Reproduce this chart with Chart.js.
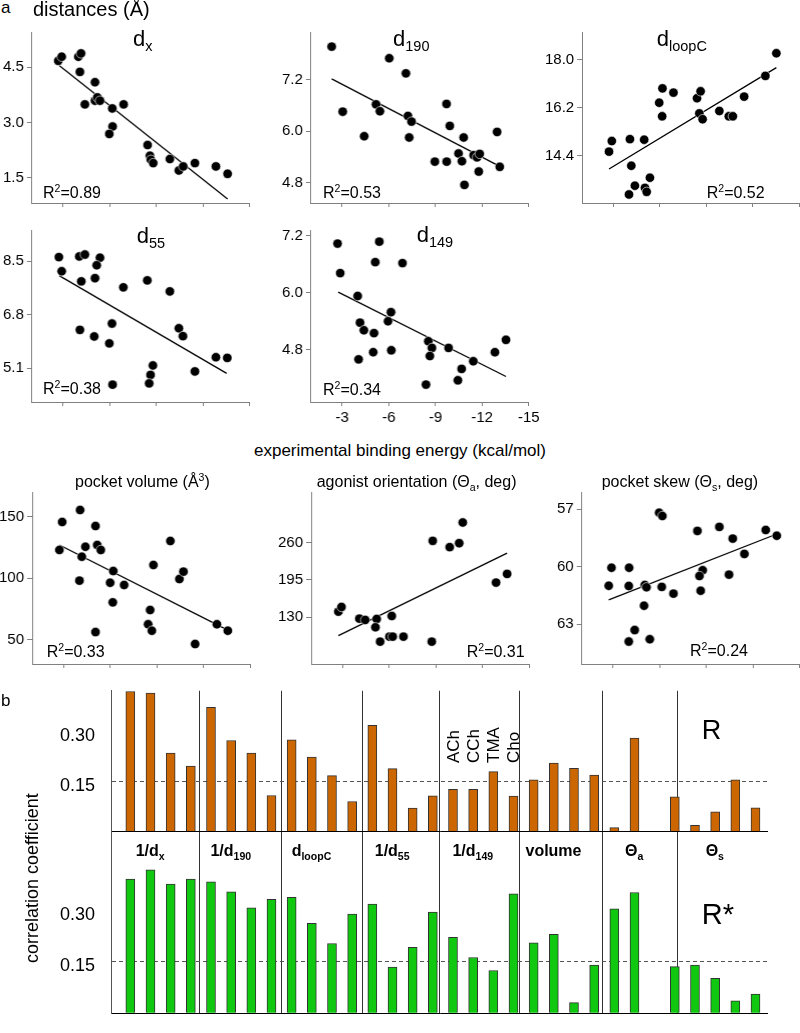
<!DOCTYPE html>
<html>
<head>
<meta charset="utf-8">
<script src="https://cdn.jsdelivr.net/npm/chart.js@4.4.1/dist/chart.umd.min.js"></script>
<style>
  body { margin: 0; width: 800px; height: 1033px; overflow: hidden; position: relative; background: #fff;
         font-family: "Liberation Sans", Arial, sans-serif; color: #000; }
  .t { position: absolute; white-space: nowrap; line-height: 1; }
  .box { position: absolute; }
  sub, sup { font-size: 66%; line-height: 0; }
</style>
</head>
<body>
<script>
// x axis of every scatter: experimental binding energy (kcal/mol)
const energyTicks = [-3, -6, -9, -12, -15];

// d_x
const dxE = [-2.69, -2.91, -3.98, -4.15, -4.08, -5.05, -4.40, -5.05, -5.20, -5.37, -6.16, -6.89, -6.18, -5.97, -8.43, -8.58, -8.64, -8.79, -9.86, -10.44, -10.72, -11.47, -12.82, -13.57];
const dxV = [4.67, 4.78, 4.78, 4.87, 4.37, 4.09, 3.49, 3.59, 3.68, 3.59, 3.38, 3.49, 2.89, 2.69, 2.39, 2.10, 1.99, 1.90, 2.01, 1.70, 1.81, 1.90, 1.81, 1.61];
const dxFit = [[-2.75, 4.54], [-13.57, 0.93]];
const dxTicks = [1.5, 3.0, 4.5];

// d_190
const d190E = [-2.33, -3.04, -4.42, -5.18, -5.43, -6.03, -7.10, -7.23, -7.46, -7.31, -9.71, -9.92, -8.96, -9.72, -10.48, -10.70, -10.81, -11.45, -11.67, -11.84, -11.78, -10.86, -12.96, -13.13];
const d190V = [7.96, 6.45, 5.88, 6.62, 6.46, 7.69, 7.34, 6.35, 6.22, 5.85, 6.63, 6.12, 5.29, 5.29, 5.48, 5.30, 5.85, 5.44, 5.39, 5.47, 5.06, 4.75, 5.98, 5.17];
const d190Fit = [[-2.33, 7.21], [-13.13, 5.18]];
const d190Ticks = [4.8, 6.0, 7.2];

// d_loopC
const loopE = [-2.73, -2.91, -4.08, -5.00, -4.17, -4.40, -4.02, -5.05, -5.16, -5.37, -5.97, -6.16, -6.18, -6.89, -8.41, -8.64, -8.56, -8.77, -9.85, -10.46, -10.72, -11.45, -12.82, -13.53];
const loopV = [14.55, 14.95, 15.02, 15.00, 14.02, 13.27, 12.94, 13.19, 13.04, 13.57, 16.39, 15.88, 16.93, 16.77, 16.56, 16.82, 15.99, 15.77, 16.08, 15.88, 15.88, 16.62, 17.40, 18.25];
const loopFit = [[-2.73, 13.90], [-13.53, 17.71]];
const loopTicks = [14.4, 16.2, 18.0];

// d_55
const d55E = [-2.73, -2.91, -4.04, -4.40, -4.17, -5.37, -5.16, -5.05, -6.87, -8.41, -9.86, -4.08, -5.00, -6.14, -5.97, -10.44, -10.70, -8.77, -8.62, -8.53, -11.47, -12.82, -13.55, -6.18];
const d55V = [8.63, 8.18, 8.65, 8.71, 7.86, 8.61, 8.37, 7.96, 7.67, 7.89, 7.54, 6.32, 6.11, 6.52, 5.89, 6.37, 6.12, 5.19, 4.89, 4.62, 5.00, 5.45, 5.43, 4.58];
const d55Fit = [[-2.75, 8.04], [-13.51, 4.94]];
const d55Ticks = [5.1, 6.8, 8.5];

// d_149
const d149E = [-2.71, -2.88, -5.39, -5.13, -6.88, -4.00, -6.14, -5.95, -4.15, -4.40, -5.05, -5.00, -6.16, -4.06, -8.54, -8.77, -8.64, -9.84, -8.39, -10.68, -10.44, -11.43, -12.82, -13.53];
const d149V = [7.03, 6.41, 7.07, 6.64, 6.62, 5.93, 5.59, 5.40, 5.37, 5.21, 5.15, 4.75, 4.79, 4.60, 4.98, 4.84, 4.67, 4.84, 4.07, 4.40, 4.16, 4.56, 4.75, 5.01];
const d149Fit = [[-2.75, 6.01], [-13.53, 4.24]];
const d149Ticks = [4.8, 6.0, 7.2];

// pocket volume
const volE = [-2.75, -2.93, -4.08, -4.19, -4.04, -4.42, -5.07, -5.18, -5.41, -5.07, -6.21, -6.01, -6.91, -6.18, -8.79, -8.58, -8.45, -8.69, -9.88, -10.46, -10.72, -11.47, -12.87, -13.57];
const volV = [123.0, 145.7, 155.4, 117.5, 98.1, 125.6, 142.4, 127.0, 123.0, 56.4, 105.9, 96.4, 94.6, 80.5, 110.8, 74.3, 62.7, 57.5, 130.3, 99.4, 105.4, 46.7, 62.7, 57.5];
const volFit = [[-2.75, 127.0], [-13.57, 58.0]];
const volTicks = [50, 100, 150];

// agonist orientation
const oriE = [-2.75, -2.95, -4.10, -4.47, -5.21, -5.13, -6.18, -6.03, -6.24, -6.93, -5.43, -8.75, -8.81, -9.90, -10.51, -10.74, -12.88, -13.59];
const oriV = [139.7, 147.9, 127.5, 125.3, 127.0, 112.5, 132.2, 96.2, 96.2, 96.2, 87.5, 87.5, 263.0, 252.0, 258.9, 294.9, 190.3, 205.4];
const oriFit = [[-2.75, 97.9], [-13.59, 241.5]];
const oriTicks = [130, 195, 260];

// pocket skew
const skewE = [-2.73, -2.91, -4.04, -4.02, -5.05, -5.16, -5.00, -4.40, -5.37, -5.97, -6.18, -6.14, -6.89, -8.43, -8.77, -8.56, -8.64, -9.84, -10.46, -10.70, -11.45, -12.82, -13.53, -4.02];
const skewV = [60.99, 60.05, 60.05, 61.00, 60.95, 61.07, 62.03, 63.30, 63.78, 57.18, 57.35, 61.05, 61.40, 58.13, 60.18, 60.48, 61.25, 57.92, 60.41, 58.53, 59.33, 58.08, 58.38, 63.90];
const skewFit = [[-2.73, 61.73], [-13.53, 58.29]];
const skewTicks = [57, 60, 63];

// panel b
const groups = ['1/d<sub>x</sub>', '1/d<sub>190</sub>', 'd<sub>loopC</sub>', '1/d<sub>55</sub>', '1/d<sub>149</sub>', 'volume', 'Θ<sub>a</sub>', 'Θ<sub>s</sub>'];
const ligands = ['ACh', 'CCh', 'TMA', 'Cho'];
const R = [0.423, 0.418, 0.237, 0.198,
           0.375, 0.275, 0.237, 0.109,
           0.277, 0.225, 0.169, 0.091,
           0.321, 0.190, 0.071, 0.108,
           0.128, 0.128, 0.181, 0.107,
           0.156, 0.207, 0.191, 0.171,
           0.012, 0.282, null, 0.105,
           0.019, 0.060, 0.156, 0.072];
const Rstar = [0.392, 0.419, 0.378, 0.392,
               0.384, 0.355, 0.308, 0.333,
               0.339, 0.263, 0.204, 0.290,
               0.319, 0.135, 0.193, 0.296,
               0.222, 0.163, 0.125, 0.349,
               0.206, 0.231, 0.031, 0.141,
               0.305, 0.353, null, 0.136,
               0.141, 0.102, 0.036, 0.056];
const threshold = 0.15;
const barTicks = [0, 0.15, 0.30];
const groupEdges = [3.44, 7.52, 11.49, 15.33, 19.3, 23.39, 27.13];

Chart.defaults.font.family = '"Liberation Sans", Arial, sans-serif';
Chart.defaults.color = '#000';

// build a chart, then move/resize its box so the plot area lands on rect
function place(rect, config) {
  const box = document.createElement('div');
  box.className = 'box';
  box.style.left = rect.x + 'px';
  box.style.top = rect.y + 'px';
  box.style.width = (rect.w + 60) + 'px';
  box.style.height = (rect.h + 40) + 'px';
  const canvas = document.createElement('canvas');
  box.appendChild(canvas);
  document.body.appendChild(box);
  const chart = new Chart(canvas, config);
  const a = chart.chartArea;
  const l = a.left, t = a.top, r = chart.width - a.right, b = chart.height - a.bottom;
  box.style.left = (rect.x - l) + 'px';
  box.style.top = (rect.y - t) + 'px';
  box.style.width = (rect.w + l + r) + 'px';
  box.style.height = (rect.h + t + b) + 'px';
  chart.resize();
  chart.originX = rect.x - l;
  chart.originY = rect.y - t;
  return chart;
}

function scatter(p) {
  return place(p.rect, {
    type: 'scatter',
    data: {
      datasets: [
        { data: p.e.map((v, i) => ({ x: v, y: p.v[i] })), pointRadius: 4.7,
          pointBackgroundColor: '#000', pointBorderColor: '#fff', pointBorderWidth: 0.6 },
        { data: p.fit.map(f => ({ x: f[0], y: f[1] })), showLine: true, borderColor: '#000',
          borderWidth: 1.3, pointRadius: 0 }
      ]
    },
    options: {
      animation: false, responsive: true, maintainAspectRatio: false,
      layout: { padding: 0 },
      plugins: { legend: { display: false }, tooltip: { enabled: false } },
      scales: {
        x: {
          type: 'linear', min: -15, max: -1, reverse: true,
          afterBuildTicks: s => { s.ticks = energyTicks.map(v => ({ value: v })); },
          ticks: { font: { size: 15 }, color: p.xLabels ? '#000' : 'rgba(0,0,0,0)', padding: 3,
                   maxRotation: 0, autoSkip: false, callback: v => String(v) },
          grid: { drawOnChartArea: false, tickLength: 4, color: '#808080' },
          border: { color: '#808080' }
        },
        y: {
          type: 'linear', min: p.min, max: p.max, reverse: !!p.reverse,
          afterBuildTicks: s => { s.ticks = p.ticks.map(v => ({ value: v })); },
          ticks: { font: { size: 15 }, color: '#000', padding: 3, callback: v => v.toFixed(p.dec) },
          grid: { drawOnChartArea: false, tickLength: 5, color: '#808080' },
          border: { color: '#808080' }
        }
      }
    }
  });
}

const panels = [
  { e: dxE, v: dxV, fit: dxFit, ticks: dxTicks, dec: 1, min: 0.82, max: 5.45, rect: { x: 32, y: 32, w: 217, h: 171 } },
  { e: d190E, v: d190V, fit: d190Fit, ticks: d190Ticks, dec: 1, min: 4.33, max: 8.30, rect: { x: 311, y: 32, w: 217, h: 171 } },
  { e: loopE, v: loopV, fit: loopFit, ticks: loopTicks, dec: 1, min: 12.62, max: 19.05, rect: { x: 582, y: 32, w: 217, h: 171 } },
  { e: d55E, v: d55V, fit: d55Fit, ticks: d55Ticks, dec: 1, min: 4.03, max: 9.49, rect: { x: 32, y: 229.5, w: 217, h: 172 } },
  { e: d149E, v: d149V, fit: d149Fit, ticks: d149Ticks, dec: 1, min: 3.705, max: 7.315, xLabels: true, rect: { x: 311, y: 229.5, w: 217, h: 172 } },
  { e: volE, v: volV, fit: volFit, ticks: volTicks, dec: 0, min: 30.5, max: 170, rect: { x: 32, y: 492, w: 217, h: 172 } },
  { e: oriE, v: oriV, fit: oriFit, ticks: oriTicks, dec: 0, min: 48.6, max: 348, rect: { x: 311, y: 492, w: 217, h: 172 } },
  { e: skewE, v: skewV, fit: skewFit, ticks: skewTicks, dec: 0, min: 56.1, max: 65.07, reverse: true, rect: { x: 582, y: 492, w: 217, h: 172 } }
];
panels.forEach(scatter);

// panel b: two stacked value axes sharing one index axis
const gridColor = ctx => !ctx.tick ? 'rgba(0,0,0,0)' :
  ctx.tick.value === 0 ? '#000' : ctx.tick.value === threshold ? '#555' : 'rgba(0,0,0,0)';
const gridDash = ctx => (ctx.tick && ctx.tick.value === threshold) ? [4, 3] : [];
function valueAxis(min, weight) {
  return {
    type: 'linear', position: 'left', stack: 'bars', stackWeight: weight, min: min, max: 0.425,
    afterBuildTicks: s => { s.ticks = barTicks.map(v => ({ value: v })); },
    ticks: { font: { size: 18 }, color: '#000', padding: 16, labelOffset: 4,
             callback: v => v === 0 ? '' : v.toFixed(2) },
    grid: { drawTicks: false, color: gridColor, lineWidth: 1 },
    border: { color: '#555', dash: gridDash }
  };
}

const bars = place({ x: 110.7, y: 690.9, w: 657.6, h: 322.4 }, {
  type: 'bar',
  data: {
    datasets: [
      { data: R.map((v, i) => ({ x: i, y: v })), yAxisID: 'yT', backgroundColor: '#cc6600',
        borderColor: '#333', borderWidth: 1, barThickness: 9 },
      { data: Rstar.map((v, i) => ({ x: i, y: v })), yAxisID: 'yB', backgroundColor: '#11c811',
        borderColor: '#333', borderWidth: 1, barThickness: 9 }
    ]
  },
  options: {
    animation: false, responsive: true, maintainAspectRatio: false,
    layout: { padding: 0 },
    datasets: { bar: { grouped: false } },
    plugins: { legend: { display: false }, tooltip: { enabled: false } },
    scales: {
      x: {
        type: 'linear', min: -0.957, max: 31.65, offset: false,
        afterBuildTicks: s => { s.ticks = groupEdges.map(v => ({ value: v })); },
        ticks: { display: false },
        grid: { offset: false, drawTicks: false, color: '#333', lineWidth: 1 },
        border: { display: false }
      },
      yB: valueAxis(0, 145.3),
      yT: valueAxis(-0.1095, 177.1)
    }
  }
});

// text
function text(html, left, base, size, extra) {
  const d = document.createElement('div');
  d.className = 't';
  d.innerHTML = html;
  d.style.left = left + 'px';
  d.style.top = (base - 0.8465 * size) + 'px';
  d.style.fontSize = size + 'px';
  if (extra) Object.assign(d.style, extra);
  document.body.appendChild(d);
  return d;
}
function vtext(html, cx, startY, size, extra) {
  const d = document.createElement('div');
  d.className = 't';
  d.innerHTML = html;
  d.style.left = (cx - 0.48 * size) + 'px';
  d.style.top = startY + 'px';
  d.style.fontSize = size + 'px';
  d.style.transformOrigin = '0 0';
  d.style.transform = 'rotate(-90deg)';
  if (extra) Object.assign(d.style, extra);
  document.body.appendChild(d);
  return d;
}

text('a', 1, 13, 17);
text('distances (Å)', 33, 16, 20);
text('d<sub>x</sub>', 133, 47, 22);
text('d<sub>190</sub>', 393, 46.7, 22);
text('d<sub>loopC</sub>', 656.7, 46.7, 22);
text('d<sub>55</sub>', 136.7, 243.3, 22);
text('d<sub>149</sub>', 416.7, 242.3, 22);

text('R<sup>2</sup>=0.89', 43, 199, 16);
text('R<sup>2</sup>=0.53', 323, 199, 16);
text('R<sup>2</sup>=0.52', 706.7, 199, 16);
text('R<sup>2</sup>=0.38', 43, 395, 16);
text('R<sup>2</sup>=0.34', 323, 395.7, 16);
text('R<sup>2</sup>=0.33', 46.7, 657.3, 16);
text('R<sup>2</sup>=0.31', 466.7, 657.3, 16);
text('R<sup>2</sup>=0.24', 690, 657, 16);

text('experimental binding energy (kcal/mol)', 400, 456, 17, { transform: 'translateX(-50%)' });
text('pocket volume (Å<sup>3</sup>)', 75, 488, 16);
text('agonist orientation (Θ<sub>a</sub>, deg)', 316.7, 488, 16);
text('pocket skew (Θ<sub>s</sub>, deg)', 601.7, 488, 16);

text('b', 1, 706.7, 17);
text('R', 701.7, 740, 27);
text('R*', 701.7, 925, 29);
vtext('correlation coefficient', 32, 963, 18);

const xs = bars.scales.x;
groups.forEach((g, i) => {
  text(g, bars.originX + xs.getPixelForValue(4 * i + 1), 857, 16,
       { transform: 'translateX(-50%)', fontWeight: 'bold' });
});
ligands.forEach((l, k) => {
  vtext(l, bars.originX + xs.getPixelForValue(16 + k), 763, 17);
});
</script>
</body>
</html>
